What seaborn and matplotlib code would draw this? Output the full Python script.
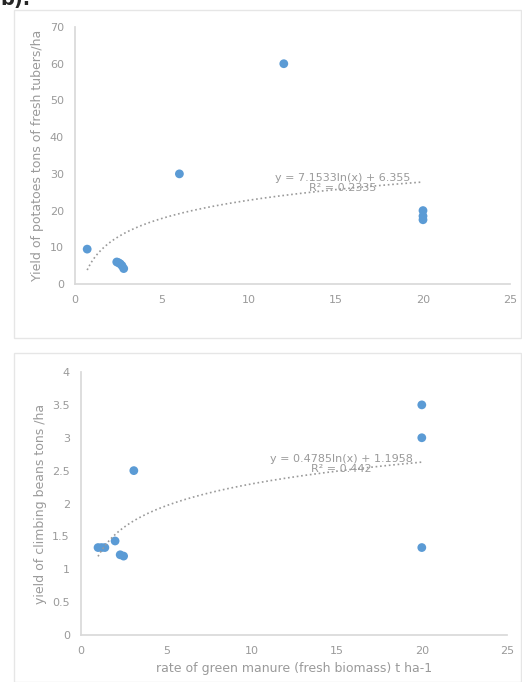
import numpy as np
import matplotlib
matplotlib.use("Agg")
import matplotlib.pyplot as plt
import seaborn as sns
from matplotlib.patches import Rectangle

# --- data ---
potato_rate = [0.7, 2.4, 2.5, 2.6, 2.7, 2.8, 6, 12, 20, 20, 20]
potato_yield = [9.5, 6.0, 5.8, 5.5, 5.0, 4.2, 30, 60, 20, 18.5, 17.5]
potato_coef = (7.1533, 6.355)
potato_r2 = "0.2335"

bean_rate = [1.0, 1.2, 1.4, 2.0, 2.3, 2.5, 3.1, 20, 20, 20]
bean_yield = [1.33, 1.33, 1.33, 1.43, 1.22, 1.2, 2.5, 3.5, 3.0, 1.33]
bean_coef = (0.4785, 1.1958)
bean_r2 = "0.442"

sns.set_theme(style="white")
plt.rcParams['font.family'] = ['DejaVu Sans']

DOT = "#5b9bd5"
GREY = "#9a9a9a"
AXIS = "#d9d9d9"

fig = plt.figure(figsize=(5.22, 6.82), dpi=100)

# chart frames
fig.patches.append(Rectangle((14 / 522, 1 - 338 / 682), 507 / 522, 328 / 682,
                             transform=fig.transFigure, fill=False, ec="#e6e6e6", lw=1))
fig.patches.append(Rectangle((14 / 522, 0), 507 / 522, 329 / 682,
                             transform=fig.transFigure, fill=False, ec="#e6e6e6", lw=1))
fig.text(0.0, 1.0, "b).", fontsize=14, fontweight="bold", va="center", ha="left")

ax1 = fig.add_axes([75 / 522, 1 - 284 / 682, 435 / 522, 257 / 682])
ax2 = fig.add_axes([81 / 522, 1 - 635 / 682, 426 / 522, 263 / 682])


def style(ax, ymax, ystep):
    ax.set_xlim(0, 25)
    ax.set_ylim(0, ymax)
    ax.set_xticks(range(0, 26, 5))
    ax.set_yticks(np.arange(0, ymax + ystep / 2, ystep))
    ax.set_yticklabels([f"{v:g}" for v in np.arange(0, ymax + ystep / 2, ystep)])
    for s in ["top", "right"]:
        ax.spines[s].set_visible(False)
    ax.spines["left"].set_color(AXIS)
    ax.spines["bottom"].set_color(AXIS)
    ax.tick_params(colors=GREY, labelsize=8, length=0, pad=8)
    ax.set_facecolor("none")


def trend(ax, x, coef, r2, tx, ty):
    a, b = coef
    xs = np.linspace(min(x), max(x), 200)
    ax.plot(xs, a * np.log(xs) + b, ls=":", color=GREY, lw=1.2)
    ax.text(tx, ty, f"y = {a}ln(x) + {b}\nR² = {r2}", color=GREY, fontsize=8,
            ha="center", va="center", linespacing=1.1)


sns.scatterplot(x=potato_rate, y=potato_yield, ax=ax1, color=DOT, s=40, edgecolor="none")
style(ax1, 70, 10)
trend(ax1, potato_rate, potato_coef, potato_r2, 15.4, 27.5)
ax1.set_ylabel("Yield of potatoes tons of fresh tubers/ha", color=GREY, fontsize=9)

sns.scatterplot(x=bean_rate, y=bean_yield, ax=ax2, color=DOT, s=40, edgecolor="none")
style(ax2, 4, 0.5)
trend(ax2, bean_rate, bean_coef, bean_r2, 15.3, 2.6)
ax2.set_ylabel("yield of climbing beans tons /ha", color=GREY, fontsize=9)
ax2.set_xlabel("rate of green manure (fresh biomass) t ha-1", color=GREY, fontsize=9)

fig.savefig("out.png", dpi=100)
